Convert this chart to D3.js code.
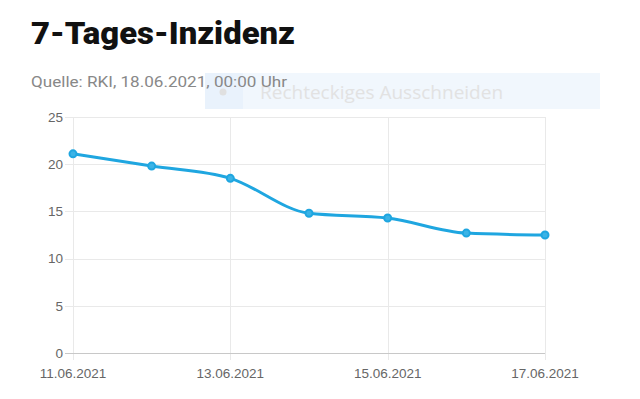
<!DOCTYPE html>
<html>
<head>
<meta charset="utf-8">
<script src="https://cdn.jsdelivr.net/npm/d3@7"></script>
<style>
  body { margin: 0; background: #fff; }
  svg { display: block; }
</style>
</head>
<body>
<svg id="chart" width="640" height="399"></svg>
<script>
// 7-Tages-Inzidenz, Werte
const dates = ["11.06.2021", "12.06.2021", "13.06.2021", "14.06.2021", "15.06.2021", "16.06.2021", "17.06.2021"]
const incidence = [21.1, 19.8, 18.5, 14.8, 14.3, 12.7, 12.5]
const yTicks = [0, 5, 10, 15, 20, 25]
const xTickLabels = ["11.06.2021", "13.06.2021", "15.06.2021", "17.06.2021"]

const svg = d3.select("#chart")
const margin = { left: 73, right: 95, top: 117, bottom: 46 }
const width = 640, height = 399

const x = d3.scalePoint().domain(dates).range([margin.left, width - margin.right])
const y = d3.scaleLinear().domain([0, 25]).range([height - margin.bottom, margin.top])

// title
svg.append("text")
  .attr("x", 31).attr("y", 44)
  .attr("font-family", "Roboto")
  .attr("font-weight", 900)
  .attr("font-size", 31)
  .attr("textLength", 264)
  .attr("lengthAdjust", "spacingAndGlyphs")
  .attr("fill", "#111")
  .text("7-Tages-Inzidenz")

// screenshot tool overlay (sits behind the source line)
const ov = svg.append("g")
ov.append("rect").attr("x", 205).attr("y", 73).attr("width", 395).attr("height", 36)
  .attr("fill", "#f1f7fd")
ov.append("rect").attr("x", 205).attr("y", 73).attr("width", 38).attr("height", 36)
  .attr("fill", "#e9f2fc")
ov.append("circle").attr("cx", 223).attr("cy", 92).attr("r", 3.5).attr("fill", "#e0e0e0")
ov.append("text").attr("x", 260).attr("y", 99)
  .attr("font-family", "Open Sans").attr("font-size", 19)
  .attr("fill", "#e2e2e2")
  .text("Rechteckiges Ausschneiden")

svg.append("text")
  .attr("x", 31).attr("y", 87)
  .attr("font-family", "Roboto")
  .attr("font-size", 15)
  .attr("textLength", 256)
  .attr("lengthAdjust", "spacingAndGlyphs")
  .attr("fill", "#888")
  .text("Quelle: RKI, 18.06.2021, 00:00 Uhr")

// grid
const grid = svg.append("g").attr("stroke", "#e9e9e9").attr("stroke-width", 1)
grid.selectAll("line.h")
  .data(yTicks.filter(d => d > 0))
  .join("line")
  .attr("x1", margin.left - 8).attr("x2", width - margin.right)
  .attr("y1", d => Math.round(y(d)) + 0.5).attr("y2", d => Math.round(y(d)) + 0.5)
grid.selectAll("line.v")
  .data(xTickLabels)
  .join("line")
  .attr("x1", d => Math.round(x(d)) + 0.5).attr("x2", d => Math.round(x(d)) + 0.5)
  .attr("y1", margin.top).attr("y2", height - margin.bottom + 7)

// zero line
svg.append("line")
  .attr("x1", margin.left - 8).attr("x2", width - margin.right)
  .attr("y1", Math.round(y(0)) + 0.5).attr("y2", Math.round(y(0)) + 0.5)
  .attr("stroke", "#c8c8c8")

// tick labels
svg.append("g")
  .attr("font-family", "Liberation Sans")
  .attr("font-size", 13.5)
  .attr("fill", "#666")
  .attr("text-anchor", "end")
  .selectAll("text")
  .data(yTicks)
  .join("text")
  .attr("x", margin.left - 10)
  .attr("y", d => y(d))
  .attr("dy", "0.35em")
  .text(d => d)

svg.append("g")
  .attr("font-family", "Liberation Sans")
  .attr("font-size", 13.5)
  .attr("fill", "#666")
  .attr("text-anchor", "middle")
  .selectAll("text")
  .data(xTickLabels)
  .join("text")
  .attr("x", d => x(d))
  .attr("y", height - margin.bottom + 25)
  .text(d => d)

// line + points
const line = d3.line()
  .x((d, i) => x(dates[i]))
  .y(d => y(d))
  .curve(d3.curveMonotoneX)

svg.append("path")
  .datum(incidence)
  .attr("fill", "none")
  .attr("stroke", "#1fa6e0")
  .attr("stroke-width", 3)
  .attr("d", line)

svg.append("g")
  .selectAll("circle")
  .data(incidence)
  .join("circle")
  .attr("cx", (d, i) => x(dates[i]))
  .attr("cy", d => y(d))
  .attr("r", 3.5)
  .attr("fill", "#3bb3e6")
  .attr("stroke", "#1fa6e0")
  .attr("stroke-width", 2)
</script>
</body>
</html>
